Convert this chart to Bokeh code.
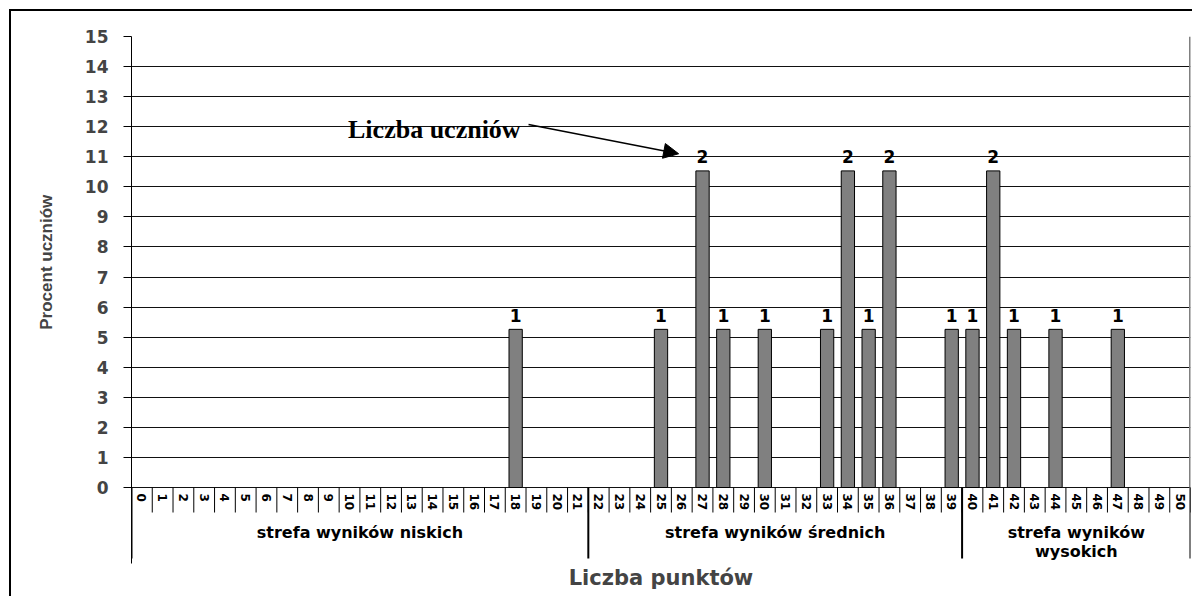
import math
from bokeh.plotting import figure
from bokeh.models import (ColumnDataSource, LinearAxis, FixedTicker, Range1d,
                          Arrow, NormalHead, Label, Grid)
from bokeh.core.properties import value
from bokeh.embed import file_html
from bokeh.resources import INLINE

# ---- data ----
points = [18, 25, 27, 28, 30, 33, 34, 35, 36, 39, 40, 41, 42, 44, 47]
counts = [1, 1, 2, 1, 1, 1, 2, 1, 2, 1, 1, 2, 1, 1, 1]
percent = [5.26, 5.26, 10.53, 5.26, 5.26, 5.26, 10.53, 5.26, 10.53,
           5.26, 5.26, 10.53, 5.26, 5.26, 5.26]
x_categories = [str(i) for i in range(51)]
y_ticks = list(range(16))
zone_names = ["strefa wyników niskich", "strefa wyników średnich",
              "strefa wyników\nwysokich"]
zone_first = [0, 22, 40]          # first category of each zone
zone_last = [21, 39, 50]          # last category of each zone

SANS = "DejaVu Sans"
PX_PER_UNIT = 451 / 15.0
Y_LOW = -76 / PX_PER_UNIT         # frame bottom (room for labels / zones)
Y_DIV = -71 / PX_PER_UNIT         # end of zone divider lines

n = len(x_categories)
src = ColumnDataSource(dict(x=points, top=percent,
                            lab=[str(c) for c in counts]))

p = figure(width=1183, height=587, output_backend="svg", toolbar_location=None,
           x_range=Range1d(-0.5, n - 0.5),
           y_range=Range1d(Y_LOW, 15),
           min_border_left=120, min_border_right=4, min_border_top=25,
           min_border_bottom=35, x_axis_location=None, y_axis_location=None)
p.styles = {"margin-left": "9px", "margin-top": "9px",
            "border-left": "2px solid black", "border-top": "2px solid black"}
p.outline_line_color = None
p.background_fill_color = "white"
p.border_fill_color = "white"
p.xgrid.visible = False
p.ygrid.visible = False

# y axis (title padded so that it is centred on the 0-15 area)
yax = LinearAxis(ticker=FixedTicker(ticks=y_ticks),
                 axis_label="\u00a0" * 16 + "Procent uczniów")
yax.major_tick_out = 8
yax.major_tick_in = 0
yax.minor_tick_line_color = None
yax.major_label_standoff = 15
yax.major_label_text_font = SANS
yax.major_label_text_font_style = "bold"
yax.major_label_text_font_size = "17px"
yax.axis_label_text_font = "Liberation Sans"
yax.axis_label_text_font_style = "bold"
yax.axis_label_text_font_size = "17px"
yax.axis_label_standoff = 26
yax.axis_line_color = "black"
p.add_layout(yax, "left")

# horizontal grid lines (top one grey like the plot-area border)
p.add_layout(Grid(dimension=1, ticker=FixedTicker(ticks=y_ticks[:-1]),
                  grid_line_color="#111111", grid_line_width=1))
p.add_layout(Grid(dimension=1, ticker=FixedTicker(ticks=y_ticks[-1:]),
                  grid_line_color="#808080", grid_line_width=2))

# x axis (title only)
xax = LinearAxis(ticker=FixedTicker(ticks=[]), axis_label="Liczba punktów")
xax.axis_line_color = None
xax.major_tick_out = 0
xax.major_tick_in = 0
xax.minor_tick_out = 0
xax.minor_tick_in = 0
xax.major_label_standoff = 0
xax.axis_label_standoff = 2
xax.axis_label_text_font = SANS
xax.axis_label_text_font_style = "bold"
xax.axis_label_text_font_size = "21px"
p.add_layout(xax, "below")

# category boundary ticks
tick_y = -25 / PX_PER_UNIT
bnd = [i - 0.5 for i in range(n + 1)]
p.segment(x0=bnd, x1=bnd, y0=[0] * len(bnd), y1=[tick_y] * len(bnd),
          line_color="black", line_width=1)

# category labels, rotated vertically
p.text(x=list(range(n)), y=[0] * n, text=x_categories,
       angle=-math.pi / 2, y_offset=6, text_align="left",
       text_baseline="middle",
       text_font=value(SANS), text_font_style="bold",
       text_font_size="12px", text_color="black")

# zone dividers and zone labels
zb = [zone_first[0] - 0.5] + [l + 0.5 for l in zone_last]
p.segment(x0=zb, x1=zb, y0=[0] * len(zb), y1=[Y_DIV] * len(zb),
          line_color="black", line_width=2)
p.segment(x0=[n - 0.5], x1=[n - 0.5], y0=[0], y1=[15],
          line_color="#808080", line_width=3)
zc = [(f + l) / 2 for f, l in zip(zone_first, zone_last)]
p.text(x=zc, y=[0] * 3, text=zone_names, y_offset=35, text_align="center",
       text_baseline="top", text_line_height=1.0,
       text_font=value(SANS), text_font_style="bold", text_font_size="16px",
       text_color="black")

# bars
p.vbar(x="x", top="top", width=0.64, bottom=0, source=src,
       fill_color="#808080", line_color="black", line_width=1)
p.text(x="x", y="top", text="lab", source=src, text_align="center",
       text_baseline="alphabetic", y_offset=-14,
       text_font=value(SANS), text_font_style="bold", text_font_size="17px",
       text_color="black")

# annotation
p.add_layout(Arrow(end=NormalHead(size=15, fill_color="black", line_color="black"),
                   x_start=18.62, y_start=12.07, x_end=25.85, y_end=11.1,
                   line_color="black", line_width=1.5))
p.add_layout(Label(x=18.24, y=11.9, text="Liczba uczniów",
                   text_align="right", text_baseline="alphabetic",
                   text_font="Liberation Serif", text_font_style="bold",
                   text_font_size="26px", text_color="black"))

open("out.html", "w").write(file_html(p, INLINE))
